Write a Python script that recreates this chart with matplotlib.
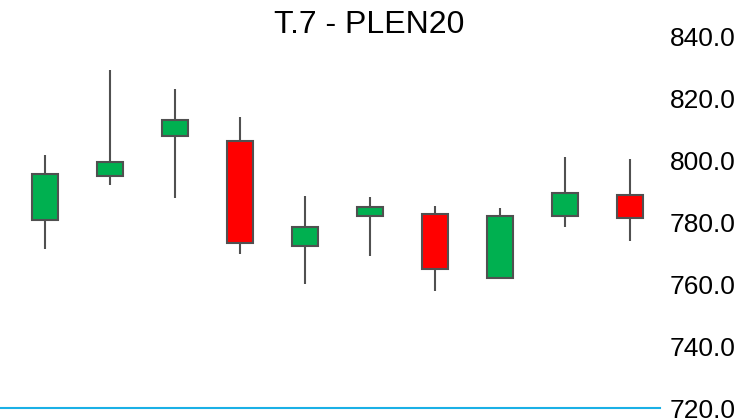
import matplotlib
matplotlib.use('Agg')
import matplotlib.pyplot as plt
import numpy as np

plt.rcParams['font.family'] = ['Liberation Sans', 'DejaVu Sans']

# candle values
opens = [780.8, 794.9, 807.8, 806.5, 772.4, 782.1, 782.7, 762.2, 782.1, 788.8]
closes = [795.6, 799.4, 813.2, 773.5, 778.7, 784.9, 765.0, 782.2, 789.5, 781.4]
highs = [801.8, 829.4, 823.2, 814.1, 788.7, 788.2, 785.4, 784.6, 801.1, 800.5]
lows = [771.4, 792.2, 787.9, 769.7, 760.1, 769.2, 757.9, 762.2, 778.7, 774.1]
yticks = [720, 740, 760, 780, 800, 820, 840]

fig = plt.figure(figsize=(7.39, 4.19), dpi=100)
ax = fig.add_axes([0, 0.026, 660 / 739, 0.886])

up = '#00b050'
down = '#ff0000'
edge = '#505050'
width = 0.41
x = np.arange(len(opens))
for i in x:
    o, c, h, l = opens[i], closes[i], highs[i], lows[i]
    col = up if c >= o else down
    ax.vlines(i, l, h, color=edge, linewidth=1.5, zorder=1)
    ax.bar(i, abs(c - o), width, bottom=min(o, c), color=col,
           edgecolor=edge, linewidth=1.5, zorder=2)

ax.set_xlim(-0.69, 9.46)
ax.set_ylim(720, 840)
ax.set_xticks([])
ax.set_yticks(yticks)
ax.set_yticklabels(['%.1f' % v for v in yticks], fontsize=19)
ax.yaxis.tick_right()
ax.tick_params(axis='y', length=0, pad=7)
for s in ['top', 'left', 'right']:
    ax.spines[s].set_visible(False)
ax.spines['bottom'].set_color('#1ab0e6')
ax.spines['bottom'].set_linewidth(1.5)

fig.text(0.5, 1 - 25 / 419, 'T.7 - PLEN20', ha='center', va='center', fontsize=23)

fig.savefig('out.png', dpi=100)
